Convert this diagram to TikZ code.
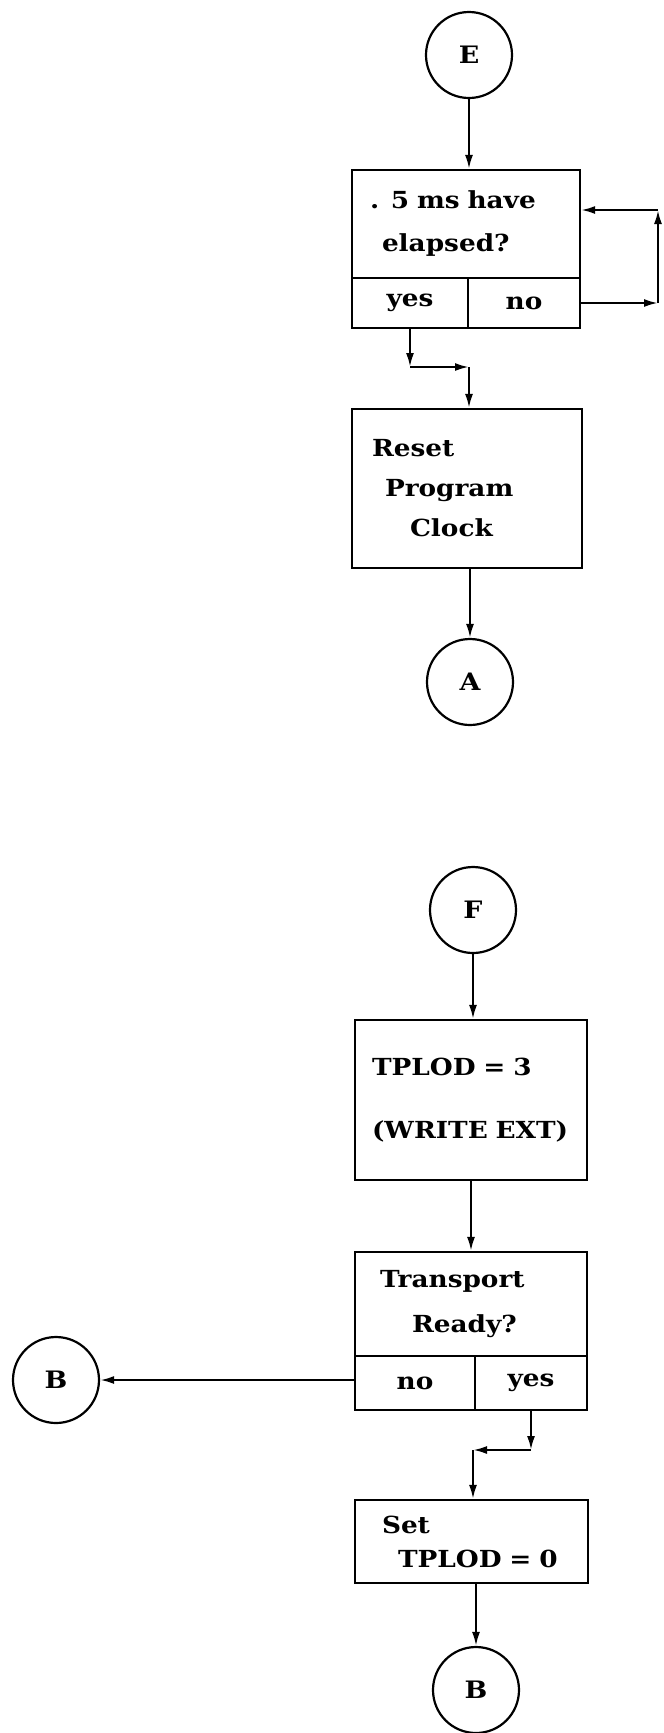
\documentclass[tikz,border=0pt]{standalone}
\usepackage{fontspec}
\setmainfont{DejaVu Serif}[FakeStretch=1.12]
\usetikzlibrary{arrows.meta, positioning, calc}

\begin{document}
\begin{tikzpicture}[x=1pt, y=-1pt, line width=2.2pt,
  font=\fontsize{23.5}{40}\selectfont\bfseries,
  proc/.style={rectangle, draw, inner xsep=17pt, inner ysep=0pt, align=left},
  cell/.style={rectangle, draw, inner sep=0pt, align=center},
  conn/.style={circle, draw, minimum size=86pt, inner sep=0pt,
  font=\fontsize{24}{26}\selectfont\bfseries},
  flow/.style={-{Latex[length=14pt, width=8pt]}}]
  \useasboundingbox (0,0) rectangle (664,1733);

  \node[conn] (E) at (469,55) {E};
  \node[proc, text width=194pt, minimum height=108pt] (q1) at (466,224)
    {\hspace*{1pt}. 5 ms have\\[3pt]\hspace*{13pt}elapsed?};
  \node[cell, minimum width=116pt, minimum height=50pt] (q1yes) at (410,303) {yes};
  \node[cell, minimum width=112pt, minimum height=50pt] (q1no) at (524,303) {no};
  \node[proc, text width=196pt, minimum height=159pt] (q2) at (467,488.5)
    {\hspace*{3pt}Reset\\\hspace*{16pt}Program\\\hspace*{41pt}Clock};
  \node[conn] (A) at (470,682) {A};

  \node[conn] (F) at (473,910) {F};
  \node[proc, text width=198pt, minimum height=160pt] (q3) at (471,1100)
    {TPLOD = 3\\[23pt](WRITE EXT)};
  \node[proc, text width=198pt, minimum height=104pt] (q4) at (471,1304)
    {\hspace*{8pt}Transport\\[5pt]\hspace*{40pt}Ready?};
  \node[cell, minimum width=120pt, minimum height=54pt] (q4no) at (415,1383) {no};
  \node[cell, minimum width=112pt, minimum height=54pt] (q4yes) at (531,1383) {yes};
  \node[conn] (B1) at (56,1380) {B};
  \node[proc, text width=199pt, minimum height=83pt] (q5) at (471.5,1541.5)
    {\hspace*{10pt}Set\\[-6pt]\hspace*{26pt}TPLOD = 0};
  \node[conn] (B2) at (476,1690) {B};

  \coordinate (l1) at (658,303);
  \coordinate (l2) at (658,210);
  \coordinate (y1) at (410,367);
  \coordinate (y2) at (469,367);
  \coordinate (n1) at (531,1450);
  \coordinate (n2) at (473,1450);

  \draw[flow] (E.south) -- (E.south |- q1.north);
  \draw[flow] (q1no.east) -- (l1);
  \draw[flow] (l1) -- (l2);
  \draw[flow] (l2) -- (l2 -| q1.east);
  \draw[flow] (q1yes.south) -- (y1);
  \draw[flow] (y1) -- (y2);
  \draw[flow] (y2) -- (y2 |- q2.north);
  \draw[flow] (A.north |- q2.south) -- (A.north);

  \draw[flow] (F.south) -- (F.south |- q3.north);
  \draw[flow] (q3.south) -- (q4.north);
  \draw[flow] (B1.east -| q4no.west) -- (B1.east);
  \draw[flow] (q4yes.south) -- (n1);
  \draw[flow] (n1) -- (n2);
  \draw[flow] (n2) -- (n2 |- q5.north);
  \draw[flow] (B2.north |- q5.south) -- (B2.north);
\end{tikzpicture}
\end{document}
